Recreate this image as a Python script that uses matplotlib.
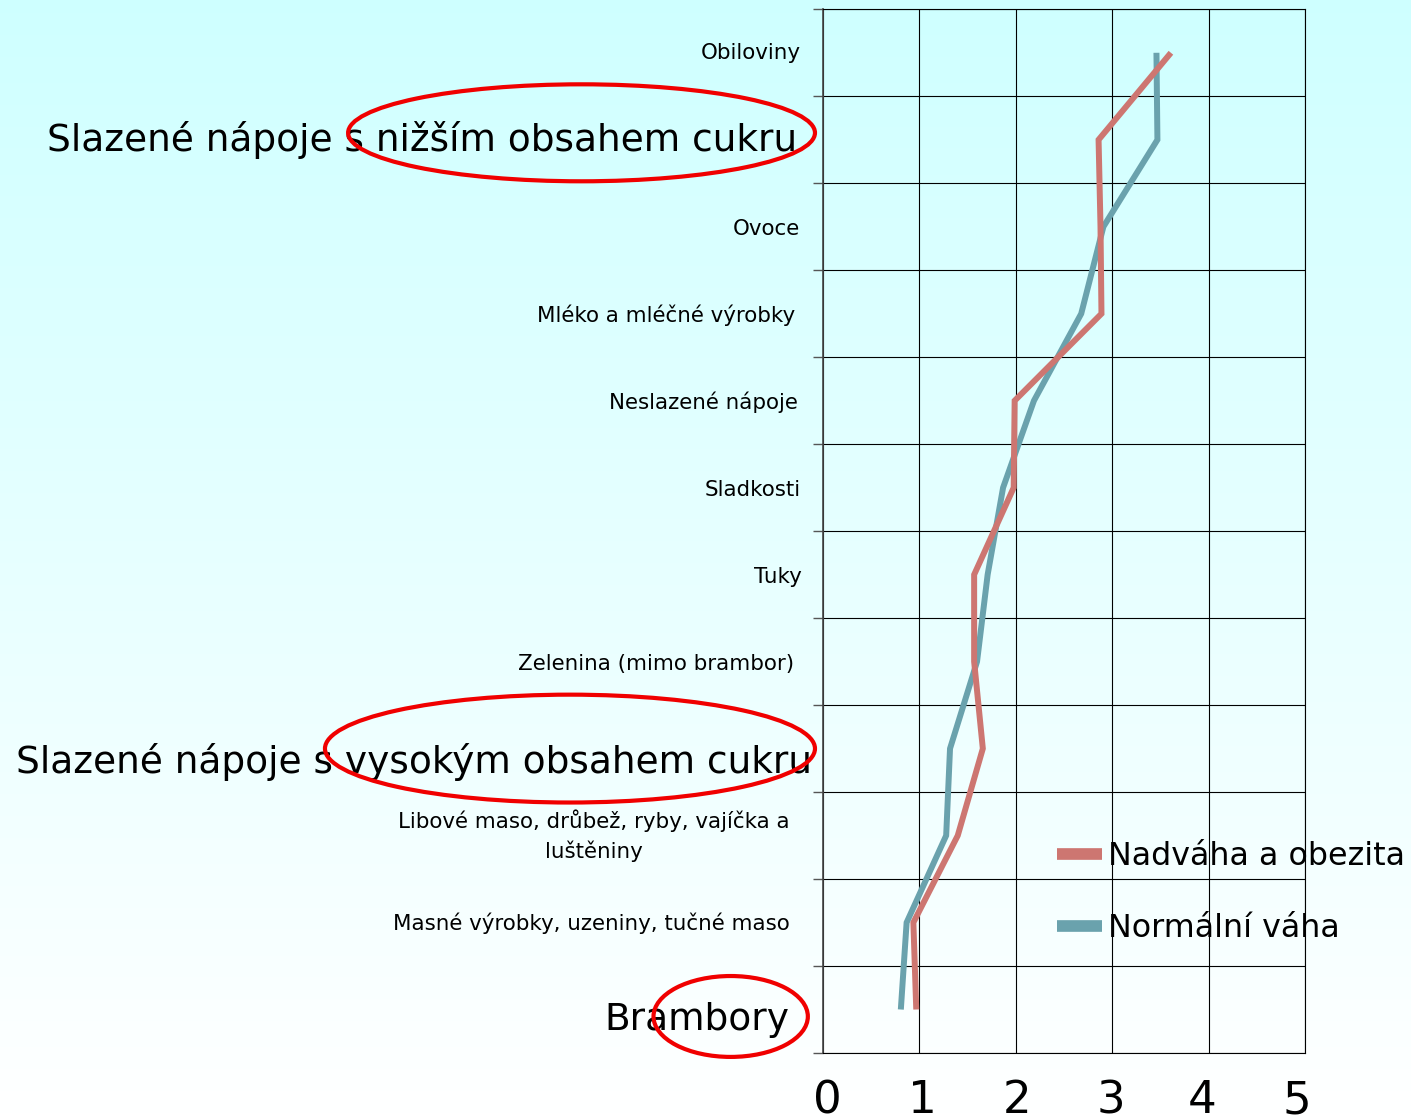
import numpy as np
import matplotlib
matplotlib.use('Agg')
import matplotlib.pyplot as plt
from matplotlib.patches import Ellipse
from matplotlib.lines import Line2D
from matplotlib.transforms import ScaledTranslation

# DATA (top to bottom, as in the chart)
categories = [
    'Obiloviny',
    'Slazené nápoje s nižším obsahem cukru',
    'Ovoce',
    'Mléko a mléčné výrobky',
    'Neslazené nápoje',
    'Sladkosti',
    'Tuky',
    'Zelenina (mimo brambor)',
    'Slazené nápoje s vysokým obsahem cukru',
    'Libové maso, drůbež, ryby, vajíčka a\nluštěniny',
    'Masné výrobky, uzeniny, tučné maso',
    'Brambory',
]
obesity = [3.61, 2.86, 2.88, 2.89, 1.99, 1.98, 1.57, 1.57, 1.66, 1.40, 0.94, 0.97]
normal = [3.46, 3.47, 2.91, 2.68, 2.19, 1.87, 1.71, 1.60, 1.32, 1.28, 0.87, 0.81]
series_names = ['Nadváha a obezita', 'Normální váha']
x_ticks = [0, 1, 2, 3, 4, 5]
highlighted = [1, 8, 11]  # categories circled in red

RED = '#CD7671'
TEAL = '#6AA2AD'

# small per-label nudges in pixels (dx right, dy down), like the original layout
label_nudge = {0: (0, -2), 1: (-3, -4), 3: (-5, 0), 4: (-3, 0), 6: (1, 0), 7: (-6, 0),
               8: (12, 9), 9: (-11, -6), 10: (-11, -1), 11: (-11, 6)}
xtick_nudge = [5, 3, 1, -1, -6, -8]

W, H = 1411, 1117
fig = plt.figure(figsize=(W / 100, H / 100), dpi=100)

# background gradient: light cyan at the top fading to white
bg = fig.add_axes([0, 0, 1, 1], zorder=0)
g = np.linspace(0, 1, 256)[:, None, None]
top = np.array([0.81, 1.0, 1.0])
img = top * (1 - g) + np.ones(3) * g
img = np.repeat(img, 2, axis=1)
bg.imshow(img, aspect='auto', extent=[0, 1, 0, 1])
bg.axis('off')

ax = fig.add_axes([822.7 / W, 64 / H, 482.3 / W, 1043.7 / H], zorder=1)
ax.set_facecolor('none')

y = np.arange(len(categories))
ax.plot(normal, y, color=TEAL, lw=4.3, solid_joinstyle='miter', solid_capstyle='butt', zorder=3)
ax.plot(obesity, y, color=RED, lw=4.3, solid_joinstyle='miter', solid_capstyle='butt', zorder=4)

ax.set_xlim(0, 5)
ax.set_ylim(len(categories) - 0.5, -0.5)

ax.set_xticks(x_ticks)
ax.tick_params(axis='x', length=0, labelsize=32.5, pad=19)
for lab, dx in zip(ax.get_xticklabels(), xtick_nudge):
    lab.set_transform(lab.get_transform() + ScaledTranslation(dx / 100, 0, fig.dpi_scale_trans))

# major y ticks on the category boundaries (grid + small ticks), labels on minor ticks
ax.set_yticks(np.arange(-0.5, len(categories), 1))
ax.set_yticklabels([])
ax.tick_params(axis='y', which='major', length=7, width=1, color='#555555')
ax.set_yticks(y, minor=True)
ax.set_yticklabels(categories, minor=True)
ax.tick_params(axis='y', which='minor', length=0, pad=16, labelsize=15.4)
for i, lab in enumerate(ax.get_yticklabels(minor=True)):
    lab.set_multialignment('center')
    lab.set_linespacing(1.5)
    if i in highlighted:
        lab.set_fontsize(27)
    if i in label_nudge:
        dx, dy = label_nudge[i]
        lab.set_transform(lab.get_transform() + ScaledTranslation(dx / 100, -dy / 100, fig.dpi_scale_trans))

ax.grid(True, which='major', color='black', lw=0.8)
ax.set_axisbelow(True)
for s in ax.spines.values():
    s.set_color('black')
    s.set_linewidth(0.8)
ax.spines['left'].set_color('#444444')
ax.spines['left'].set_linewidth(1.2)

# red circles around the highlighted labels
for (cx, cy, w, h) in [(-2.50, 0.92, 4.84, 1.115), (-2.62, 8.0, 5.08, 1.24), (-0.954, 11.08, 1.60, 0.93)]:
    ax.add_patch(Ellipse((cx, cy), w, h, fill=False, edgecolor='#F00000', lw=3,
                         clip_on=False, zorder=10))

handles = [Line2D([], [], color=RED, lw=8.4, solid_capstyle='butt'),
           Line2D([], [], color=TEAL, lw=8.4, solid_capstyle='butt')]
fig.legend(handles, series_names, loc='upper left', bbox_to_anchor=(1057 / W, 1 - 841 / H),
           frameon=False, fontsize=22.9, handlelength=1.4, handletextpad=0.2,
           borderpad=0, borderaxespad=0, labelspacing=1.29)

fig.savefig('out.png', dpi=100)
